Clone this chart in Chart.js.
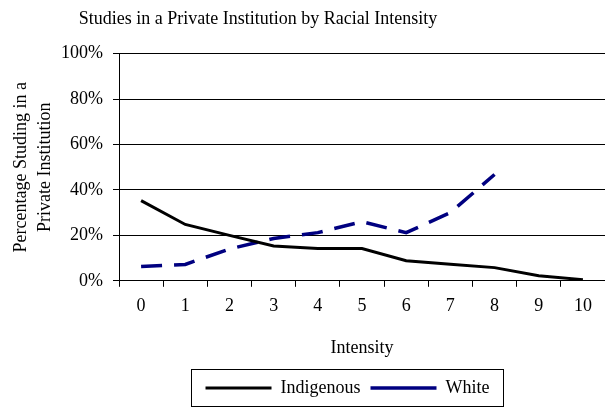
<!DOCTYPE html>
<html>
<head>
<meta charset="utf-8">
<script src="https://cdn.jsdelivr.net/npm/chart.js@4"></script>
<style>
  body { margin: 0; background: #fff; }
  canvas { display: block; }
</style>
</head>
<body>
<canvas id="chart_private" width="605" height="408"></canvas>
<script>
/* data */
const intensity = ['0', '1', '2', '3', '4', '5', '6', '7', '8', '9', '10'];
const indigenous = [35.3, 24.8, 20, 15.3, 14.2, 14.2, 8.8, 7.3, 5.8, 2.2, 0.5];
const white = [6.3, 7.2, 14, 18.6, 21.2, 26, 21.2, 30, 46.8, null, null];

const serif = "'Liberation Serif', 'Times New Roman', serif";

/* legend, title position + box around legend */
const layoutFix = {
  id: 'layoutFix',
  afterLayout(chart) {
    chart.legend.left = 191;
    chart.legend.right = 504;
    chart.titleBlock.left = 0;
    chart.titleBlock.right = 516;
  },
  afterDraw(chart) {
    const lg = chart.legend;
    const ctx = chart.ctx;
    ctx.save();
    ctx.strokeStyle = '#000';
    ctx.lineWidth = 1;
    ctx.strokeRect(lg.left + 0.5, lg.top + 0.5, lg.right - lg.left - 1, lg.bottom - lg.top - 1);
    ctx.restore();
  }
};

const ctx_private = document.getElementById('chart_private');

var config_private = {
  type: 'line',
  data: {
    labels: intensity,
    datasets: [{
      label: 'Indigenous',
      data: indigenous,
      borderColor: '#000000',
      backgroundColor: '#000000',
      borderWidth: 3,
      pointRadius: 0,
      tension: 0
    }, {
      label: 'White',
      data: white,
      borderColor: '#000080',
      backgroundColor: '#000080',
      borderWidth: 3.5,
      borderDash: [21, 12],
      pointRadius: 0,
      tension: 0
    }]
  },
  options: {
    responsive: false,
    animation: false,
    devicePixelRatio: 1,
    layout: { padding: { left: 0, right: 0, top: 0, bottom: 1 } },
    plugins: {
      title: {
        display: true,
        text: 'Studies in a Private Institution by Racial Intensity',
        color: '#000',
        font: { family: serif, size: 18, weight: 'normal' },
        padding: { top: 8, bottom: 24 }
      },
      legend: {
        position: 'bottom',
        labels: {
          color: '#000',
          font: { family: serif, size: 18 },
          usePointStyle: true,
          pointStyle: 'line',
          pointStyleWidth: 66,
          padding: 10
        }
      },
      tooltip: { enabled: false }
    },
    scales: {
      x: {
        offset: true,
        grid: { offset: true, drawOnChartArea: false, color: '#000', tickLength: 6 },
        border: { color: '#000' },
        ticks: { color: '#000', font: { family: serif, size: 18 }, padding: 9, maxRotation: 0 },
        title: {
          display: true,
          text: 'Intensity',
          color: '#000',
          font: { family: serif, size: 18 },
          padding: { top: 11, bottom: 10 }
        }
      },
      y: {
        min: 0,
        max: 100,
        afterFit: (scale) => { scale.width = 119; },
        grid: { color: '#000', tickLength: 6 },
        border: { color: '#000' },
        ticks: {
          stepSize: 20,
          color: '#000',
          font: { family: serif, size: 18 },
          padding: 10,
          callback: (v) => v + '%'
        },
        title: {
          display: true,
          text: ['Percentage Studing in a', 'Private Institution'],
          color: '#000',
          font: { family: serif, size: 18, lineHeight: 1.33 },
          padding: { top: 9, bottom: 3 }
        }
      }
    }
  },
  plugins: [layoutFix]
};

var chart_private = new Chart(ctx_private, config_private);
</script>
</body>
</html>
